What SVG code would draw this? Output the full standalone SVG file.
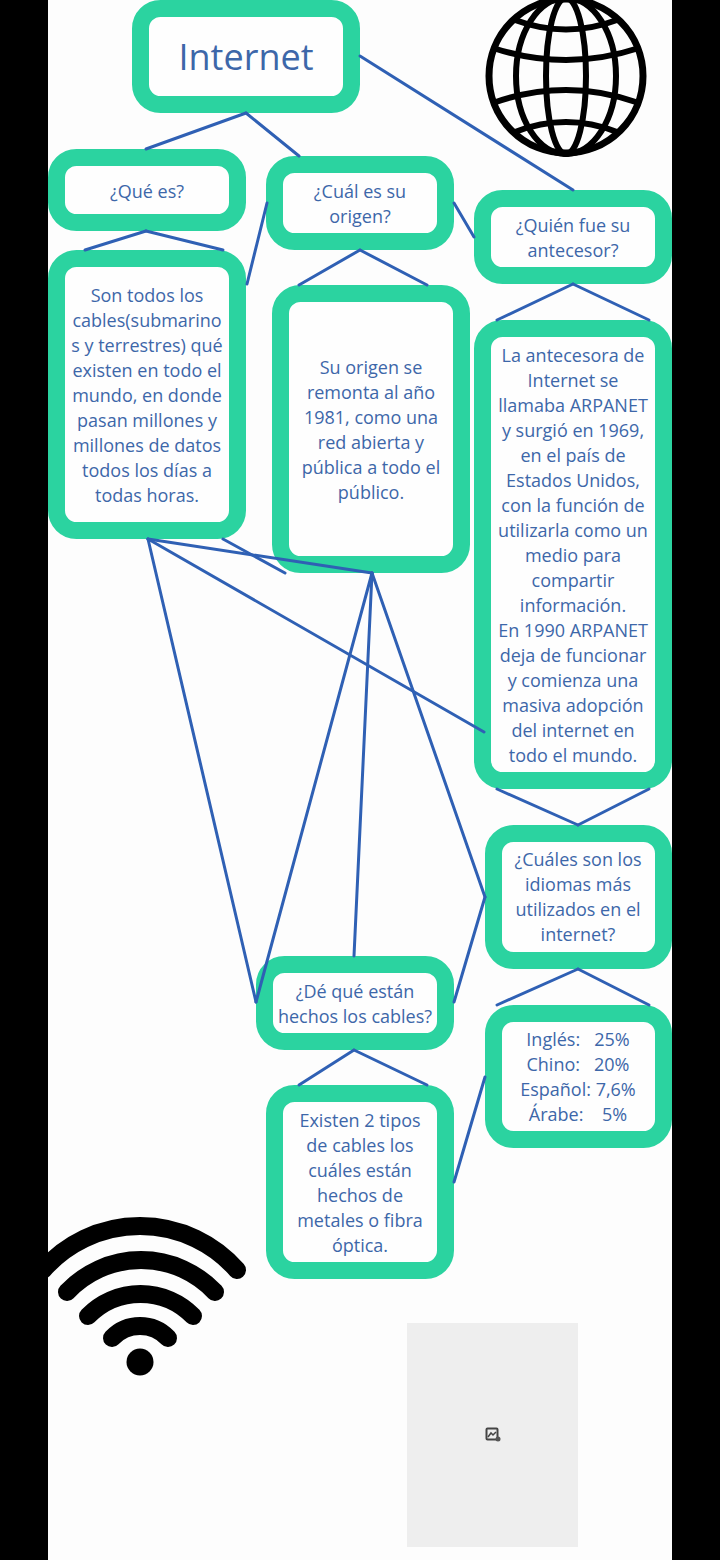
<svg xmlns="http://www.w3.org/2000/svg" width="720" height="1560" viewBox="0 0 720 1560">
<style>
.box{fill:#fefefe;stroke:#2bd3a0;stroke-width:17}
.t{font-family:"Open Sans","Noto Sans","Liberation Sans",sans-serif;font-size:18px;fill:#3d67a9;text-anchor:middle}
.c line{stroke:#2f60b4;stroke-width:3;stroke-linecap:round}
.k{fill:none;stroke:#000;stroke-width:6}
.w{fill:none;stroke:#000;stroke-width:18;stroke-linecap:round}
</style>
<rect width="720" height="1560" fill="#fdfdfd"/>
<g id="globe">
<circle cx="566" cy="76" r="77" fill="none" stroke="#000" stroke-width="7"/>
<ellipse class="k" cx="566" cy="76" rx="20" ry="78"/>
<ellipse class="k" cx="566" cy="76" rx="50" ry="78"/>
<path class="k" d="M515 20Q566 39 617 20M493 48Q566 72 639 48M493 103Q566 77 639 103M515 132Q566 112 617 132"/>
</g>
<g id="wifi">
<path class="w" d="M43 1270A129 129 0 0 1 237 1270"/>
<path class="w" d="M67 1292A101.600 101.600 0 0 1 215 1292"/>
<path class="w" d="M88 1316A73.600 73.600 0 0 1 193 1316"/>
<path class="w" d="M112 1338A38.700 38.700 0 0 1 168 1338"/>
<circle cx="140" cy="1362" r="13.500"/>
</g>
<g id="placeholder">
<rect x="407" y="1323" width="171" height="224" fill="#eeeeee"/>
<rect x="486.500" y="1428.500" width="11" height="11" rx="1" fill="#eee" stroke="#444" stroke-width="2"/>
<path d="M488 1437l3-4 2 2 3-3" fill="none" stroke="#444" stroke-width="1.500"/>
<circle cx="498" cy="1439" r="2.500" fill="#555"/>
</g>
<g id="n-internet"><rect class="box" x="140.500" y="8.500" width="211" height="96" rx="20"/><text class="t" x="246" y="70" style="font-size:36px">Internet</text></g>
<g id="n-que"><rect class="box" x="56.500" y="157.500" width="181" height="65" rx="20"/><text class="t" x="147" y="198">¿Qué es?</text></g>
<g id="n-cual"><rect class="box" x="274.500" y="164.500" width="171" height="77" rx="20"/><text class="t" x="360" y="198">¿Cuál es su</text><text class="t" x="360" y="223">origen?</text></g>
<g id="n-quien"><rect class="box" x="482.500" y="198.500" width="181" height="77" rx="20"/><text class="t" x="573" y="232">¿Quién fue su</text><text class="t" x="573" y="257">antecesor?</text></g>
<g id="n-son"><rect class="box" x="56.500" y="258.500" width="181" height="272" rx="20"/>
<text class="t" x="147" y="302">Son todos los</text><text class="t" x="147" y="327">cables(submarino</text><text class="t" x="147" y="352">s y terrestres) qué</text><text class="t" x="147" y="377">existen en todo el</text><text class="t" x="147" y="402">mundo, en donde</text><text class="t" x="147" y="427">pasan millones y</text><text class="t" x="147" y="452">millones de datos</text><text class="t" x="147" y="477">todos los días a</text><text class="t" x="147" y="502">todas horas.</text></g>
<g id="n-su"><rect class="box" x="280.500" y="293.500" width="181" height="271" rx="20"/>
<text class="t" x="371" y="374">Su origen se</text><text class="t" x="371" y="399">remonta al año</text><text class="t" x="371" y="424">1981, como una</text><text class="t" x="371" y="449">red abierta y</text><text class="t" x="371" y="474">pública a todo el</text><text class="t" x="371" y="499">público.</text></g>
<g id="n-la"><rect class="box" x="482.500" y="328.500" width="181" height="452" rx="20"/>
<text class="t" x="573" y="362">La antecesora de</text><text class="t" x="573" y="387">Internet se</text><text class="t" x="573" y="412">llamaba ARPANET</text><text class="t" x="573" y="437">y surgió en 1969,</text><text class="t" x="573" y="462">en el país de</text><text class="t" x="573" y="487">Estados Unidos,</text><text class="t" x="573" y="512">con la función de</text><text class="t" x="573" y="537">utilizarla como un</text><text class="t" x="573" y="562">medio para</text><text class="t" x="573" y="587">compartir</text><text class="t" x="573" y="612">información.</text><text class="t" x="573" y="637">En 1990 ARPANET</text><text class="t" x="573" y="662">deja de funcionar</text><text class="t" x="573" y="687">y comienza una</text><text class="t" x="573" y="712">masiva adopción</text><text class="t" x="573" y="737">del internet en</text><text class="t" x="573" y="762">todo el mundo.</text></g>
<g id="n-cuales"><rect class="box" x="493.500" y="833.500" width="170" height="127" rx="20"/>
<text class="t" x="578" y="866">¿Cuáles son los</text><text class="t" x="578" y="891">idiomas más</text><text class="t" x="578" y="916">utilizados en el</text><text class="t" x="578" y="941">internet?</text></g>
<g id="n-de"><rect class="box" x="264.500" y="964.500" width="181" height="77" rx="20"/><text class="t" x="355" y="998">¿Dé qué están</text><text class="t" x="355" y="1023">hechos los cables?</text></g>
<g id="n-ingles"><rect class="box" x="493.500" y="1013.500" width="170" height="126" rx="20"/>
<text class="t" x="578" y="1046" xml:space="preserve">Inglés:   25%</text><text class="t" x="578" y="1071" xml:space="preserve">Chino:   20%</text><text class="t" x="578" y="1096">Español: 7,6%</text><text class="t" x="578" y="1121" xml:space="preserve">Árabe:    5%</text></g>
<g id="n-existen"><rect class="box" x="274.500" y="1093.500" width="171" height="177" rx="20"/>
<text class="t" x="360" y="1127">Existen 2 tipos</text><text class="t" x="360" y="1152">de cables los</text><text class="t" x="360" y="1177">cuáles están</text><text class="t" x="360" y="1202">hechos de</text><text class="t" x="360" y="1227">metales o fibra</text><text class="t" x="360" y="1252">óptica.</text></g>
<g id="connectors" class="c">
<line x1="246" y1="113" x2="146" y2="149"/>
<line x1="246" y1="113" x2="299" y2="156"/>
<line x1="360" y1="56" x2="573" y2="190"/>
<line x1="146" y1="231" x2="85" y2="250"/>
<line x1="146" y1="231" x2="223" y2="250"/>
<line x1="247" y1="284" x2="267" y2="203"/>
<line x1="454" y1="203" x2="474" y2="237"/>
<line x1="360" y1="250" x2="299" y2="285"/>
<line x1="360" y1="250" x2="427" y2="285"/>
<line x1="573" y1="284" x2="497" y2="320"/>
<line x1="573" y1="284" x2="649" y2="320"/>
<line x1="497" y1="789" x2="578" y2="825"/>
<line x1="649" y1="789" x2="578" y2="825"/>
<line x1="148" y1="539" x2="256" y2="1002"/>
<line x1="148" y1="539" x2="372" y2="573"/>
<line x1="148" y1="539" x2="484" y2="732"/>
<line x1="223" y1="539" x2="285" y2="573"/>
<line x1="372" y1="573" x2="256" y2="1002"/>
<line x1="372" y1="573" x2="354" y2="956"/>
<line x1="372" y1="573" x2="485" y2="897"/>
<line x1="485" y1="897" x2="454" y2="1002"/>
<line x1="354" y1="1050" x2="299" y2="1085"/>
<line x1="354" y1="1050" x2="427" y2="1085"/>
<line x1="578" y1="969" x2="497" y2="1005"/>
<line x1="578" y1="969" x2="649" y2="1005"/>
<line x1="485" y1="1077" x2="454" y2="1182"/>
</g>
<g id="bars"><rect x="0" y="0" width="48" height="1560"/><rect x="672" y="0" width="48" height="1560"/></g>
</svg>
